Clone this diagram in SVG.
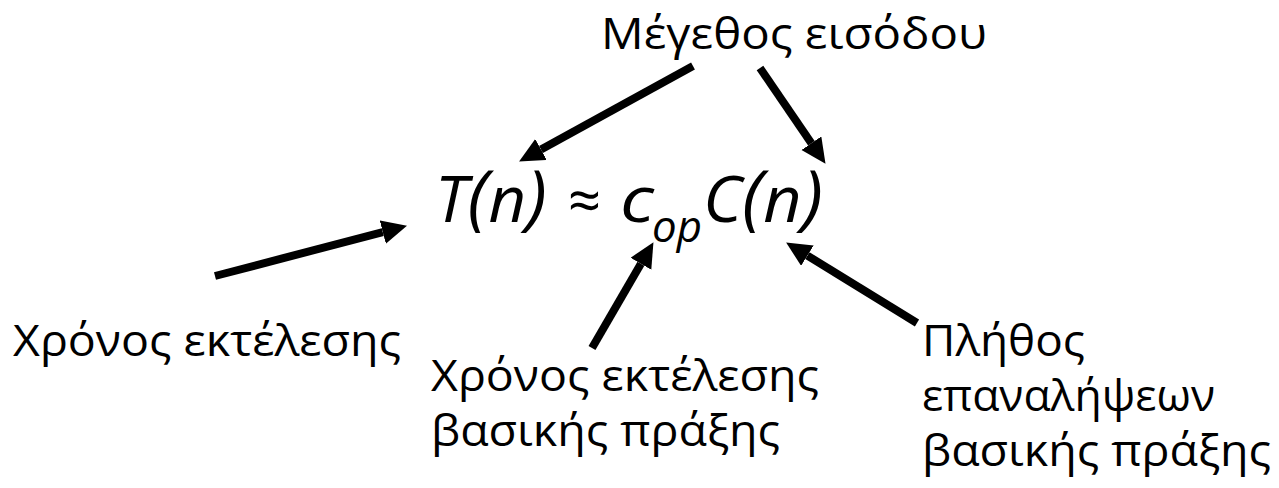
<svg xmlns="http://www.w3.org/2000/svg" width="1279" height="488" viewBox="0 0 1279 488">
<style>
.lbl{font-family:"Open Sans","Noto Sans",sans-serif;font-size:44px;fill:#000}
.f{font-family:"Open Sans","Noto Sans",sans-serif;font-size:64px;font-style:italic;fill:#000}
.p{font-size:72px}
.sub{font-family:"Open Sans","Noto Sans",sans-serif;font-size:44px;font-style:italic;fill:#000}
.arr{stroke:#000;stroke-width:8;fill:none;marker-end:url(#ah)}
</style>
<defs>
<marker id="ah" markerUnits="userSpaceOnUse" markerWidth="26" markerHeight="26" refX="0" refY="12" orient="auto" viewBox="0 0 26 26">
<path d="M0,0 L25,12 L0,24 Z" fill="#000"/>
</marker>
</defs>
<g id="formula">
<text class="f" x="435" y="222" textLength="112" lengthAdjust="spacingAndGlyphs">T<tspan class="p">(</tspan>n<tspan class="p">)</tspan></text>
<text class="lbl" x="568" y="222" style="font-size:60px" textLength="33" lengthAdjust="spacingAndGlyphs">≈</text>
<text class="f" x="620" y="222" textLength="34" lengthAdjust="spacingAndGlyphs">c</text>
<text class="sub" x="652" y="242" textLength="50" lengthAdjust="spacingAndGlyphs">op</text>
<text class="f" x="703" y="222" textLength="120" lengthAdjust="spacingAndGlyphs">C<tspan class="p">(</tspan>n<tspan class="p">)</tspan></text>
</g>
<g id="input-size">
<text class="lbl" x="601" y="49" textLength="386" lengthAdjust="spacingAndGlyphs">Μέγεθος εισόδου</text>
</g>
<g id="exec-time">
<text class="lbl" x="13" y="356" textLength="388" lengthAdjust="spacingAndGlyphs">Χρόνος εκτέλεσης</text>
</g>
<g id="op-time">
<text class="lbl" x="431" y="391" textLength="388" lengthAdjust="spacingAndGlyphs">Χρόνος εκτέλεσης</text>
<text class="lbl" x="431" y="446" textLength="349" lengthAdjust="spacingAndGlyphs">βασικής πράξης</text>
</g>
<g id="op-count">
<text class="lbl" x="922" y="356" textLength="163" lengthAdjust="spacingAndGlyphs">Πλήθος</text>
<text class="lbl" x="922" y="411" textLength="293" lengthAdjust="spacingAndGlyphs">επαναλήψεων</text>
<text class="lbl" x="922" y="466" textLength="349" lengthAdjust="spacingAndGlyphs">βασικής πράξης</text>
</g>
<g id="connectors">
<line class="arr" x1="693" y1="66" x2="541" y2="149.5"/>
<line class="arr" x1="760" y1="68" x2="811.4" y2="143.2"/>
<line class="arr" x1="215" y1="276" x2="382.8" y2="232.1"/>
<line class="arr" x1="592" y1="348" x2="640.9" y2="263.8"/>
<line class="arr" x1="917" y1="323" x2="807.4" y2="255.6"/>
</g>
</svg>
